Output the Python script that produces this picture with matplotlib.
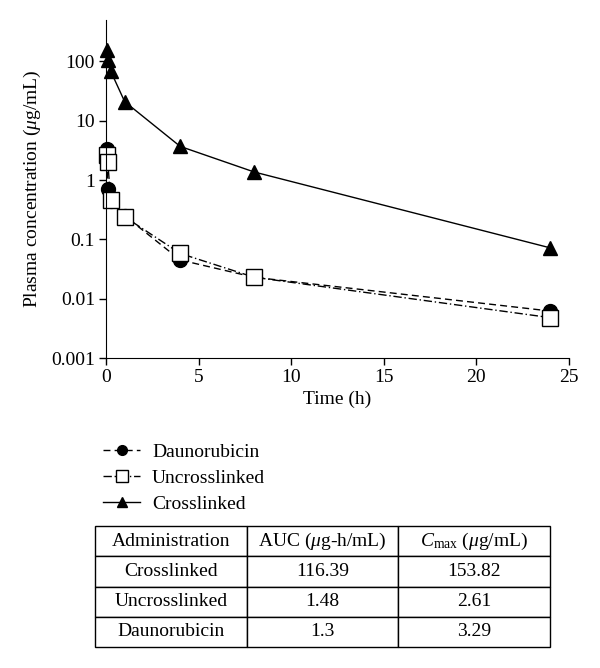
import matplotlib
matplotlib.use("Agg")
import matplotlib.pyplot as plt

plt.rcParams['font.family'] = ['Liberation Serif', 'DejaVu Serif']
plt.rcParams['mathtext.fontset'] = 'custom'
plt.rcParams['mathtext.rm'] = 'Liberation Serif'
plt.rcParams['mathtext.it'] = 'Liberation Serif:italic'

time_h = [0.033, 0.083, 0.25, 1, 4, 8, 24]
daunorubicin = [3.29, 0.7, 0.45, 0.25, 0.045, 0.023, 0.0062]
uncrosslinked = [2.61, 2.0, 0.46, 0.24, 0.058, 0.023, 0.0048]
crosslinked = [153.82, 108, 68, 21, 3.7, 1.37, 0.072]

y_ticks = [0.001, 0.01, 0.1, 1, 10, 100]
y_tick_labels = ["0.001", "0.01", "0.1", "1", "10", "100"]
x_ticks = [0, 5, 10, 15, 20, 25]

table_header = ["Administration", r"AUC ($\mu$g-h/mL)", r"$C_{\mathrm{max}}$ ($\mu$g/mL)"]
table_rows = [["Crosslinked", "116.39", "153.82"],
              ["Uncrosslinked", "1.48", "2.61"],
              ["Daunorubicin", "1.3", "3.29"]]

FS = 14

fig = plt.figure(figsize=(6.0, 6.68), dpi=100)
ax = fig.add_axes([0.177, 0.464, 0.771, 0.506])

l1, = ax.plot(time_h, daunorubicin, color='black', lw=1.0, ls=(0, (5, 3)),
              marker='o', ms=10, mfc='black', mec='black', label='Daunorubicin')
l2, = ax.plot(time_h, uncrosslinked, color='black', lw=1.0, ls=(0, (6, 2, 1, 2)),
              marker='s', ms=12, mfc='white', mec='black', mew=1.0, label='Uncrosslinked')
l3, = ax.plot(time_h, crosslinked, color='black', lw=1.0, ls='-',
              marker='^', ms=10, mfc='black', mec='black', label='Crosslinked')

ax.set_yscale('log')
ax.set_ylim(0.001, 500)
ax.set_xlim(0, 25)
ax.set_yticks(y_ticks)
ax.set_yticklabels(y_tick_labels)
ax.yaxis.set_minor_locator(matplotlib.ticker.NullLocator())
ax.set_xticks(x_ticks)
ax.spines['top'].set_visible(False)
ax.spines['right'].set_visible(False)
ax.tick_params(direction='out', length=5, width=1, labelsize=FS, pad=3)
ax.set_xlabel("Time (h)", fontsize=FS, labelpad=3)
ax.set_ylabel(r"Plasma concentration ($\mu$g/mL)", fontsize=FS, labelpad=6)
for lh in (l1, l2, l3):
    lh.set_clip_on(False)

fig.legend(handles=[l1, l2, l3], loc='upper left', bbox_to_anchor=(0.143, 0.362),
           frameon=False, fontsize=FS, markerscale=0.7, handlelength=1.9,
           handletextpad=0.6, labelspacing=0.42)

tax = fig.add_axes([95/600, 1-647/668, (550-95)/600, (647-526)/668])
tax.axis('off')
tbl = tax.table(cellText=table_rows, colLabels=table_header, cellLoc='center',
                loc='center', bbox=[0, 0, 1, 1],
                colWidths=[(247-95), (398-247), (550-398)])
tbl.auto_set_font_size(False)
tbl.set_fontsize(FS)
for (r, c), cell in tbl.get_celld().items():
    cell.set_linewidth(1.0)
    cell.set_edgecolor('black')

fig.savefig("out.png", dpi=100)
